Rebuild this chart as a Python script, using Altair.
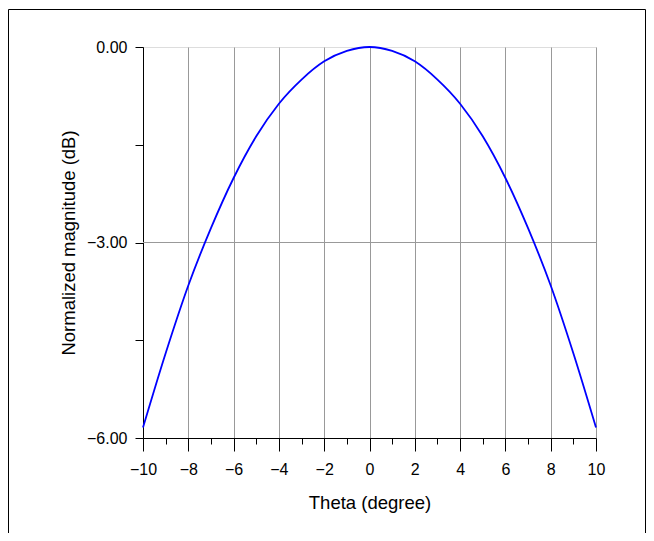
import altair as alt
import pandas as pd

theta = [-10, -9, -8, -7, -6, -5, -4, -3, -2, -1, 0, 1, 2, 3, 4, 5, 6, 7, 8, 9, 10]
mag_db = [-5.84, -4.70, -3.66, -2.78, -2.01, -1.37, -0.87, -0.50, -0.22, -0.06, 0.0,
          -0.06, -0.22, -0.50, -0.87, -1.37, -2.01, -2.78, -3.66, -4.70, -5.84]
x_major = [-10, -8, -6, -4, -2, 0, 2, 4, 6, 8, 10]
x_minor = [-9, -7, -5, -3, -1, 1, 3, 5, 7, 9]
y_ticks = [0, -1.5, -3, -4.5, -6]
y_grid = [-3]

df = pd.DataFrame({"theta": theta, "mag": mag_db})
FONT = "Arial, Liberation Sans"
W, H = 453, 391

xscale = alt.Scale(domain=[-10, 10], nice=False)
yscale = alt.Scale(domain=[-6, 0], nice=False)

line = alt.Chart(df).mark_line(color="#0000ff", strokeWidth=1.8, interpolate="monotone").encode(
    x=alt.X("theta:Q", scale=xscale,
            axis=alt.Axis(values=x_major, tickSize=13, tickColor="black", domainColor="black",
                          grid=True, gridColor="#999999", gridWidth=1,
                          labelFont=FONT, labelFontSize=16, labelColor="black", labelPadding=10,
                          labelFlush=False, labelOverlap=False,
                          title="Theta (degree)", titleFont=FONT, titleFontSize=18.5,
                          titleFontWeight="normal", titleColor="black", titleY=55,
                          titleBaseline="top", orient="bottom")),
    y=alt.Y("mag:Q", scale=yscale,
            axis=alt.Axis(values=y_ticks, tickSize=8, tickColor="black", domainColor="black",
                          grid=False, labelFlush=False, labelOverlap=False,
                          labelExpr="datum.value % 3 == 0 ? format(datum.value, '.2f') : ''",
                          labelFont=FONT, labelFontSize=16, labelColor="black", labelPadding=8,
                          title="Normalized magnitude (dB)", titleFont=FONT, titleFontSize=18.5,
                          titleFontWeight="normal", titleColor="black", titleX=-75,
                          titleBaseline="middle")),
)

minor = alt.Chart(df).mark_point(opacity=0).encode(
    x=alt.X("theta:Q", scale=xscale,
            axis=alt.Axis(values=x_minor, tickSize=6, tickColor="black", domain=False,
                          grid=False, labels=False, title=None, orient="bottom")),
    y=alt.Y("mag:Q", scale=yscale, axis=None),
)

hgrid = alt.Chart(pd.DataFrame({"y": y_grid})).mark_rule(color="#999999", strokeWidth=1).encode(
    y=alt.Y("y:Q", scale=yscale, axis=None)
)

frame = alt.Chart(alt.Data(values=[{}])).mark_rect(
    fill="transparent", stroke="black", strokeWidth=1, clip=False
).encode(
    x=alt.value(-134.5), x2=alt.value(502.5), y=alt.value(-37.5), y2=alt.value(700)
)

chart = alt.layer(hgrid, line, minor, frame).resolve_axis(x="independent", y="independent").properties(
    width=W, height=H,
    autosize=alt.AutoSizeParams(type="none"),
    padding={"left": 135, "top": 39, "right": 50, "bottom": 95},
).configure_view(stroke="#333333", strokeWidth=1).configure(background="white")

chart.save("out.html", embed_options={"renderer": "svg", "actions": False})
